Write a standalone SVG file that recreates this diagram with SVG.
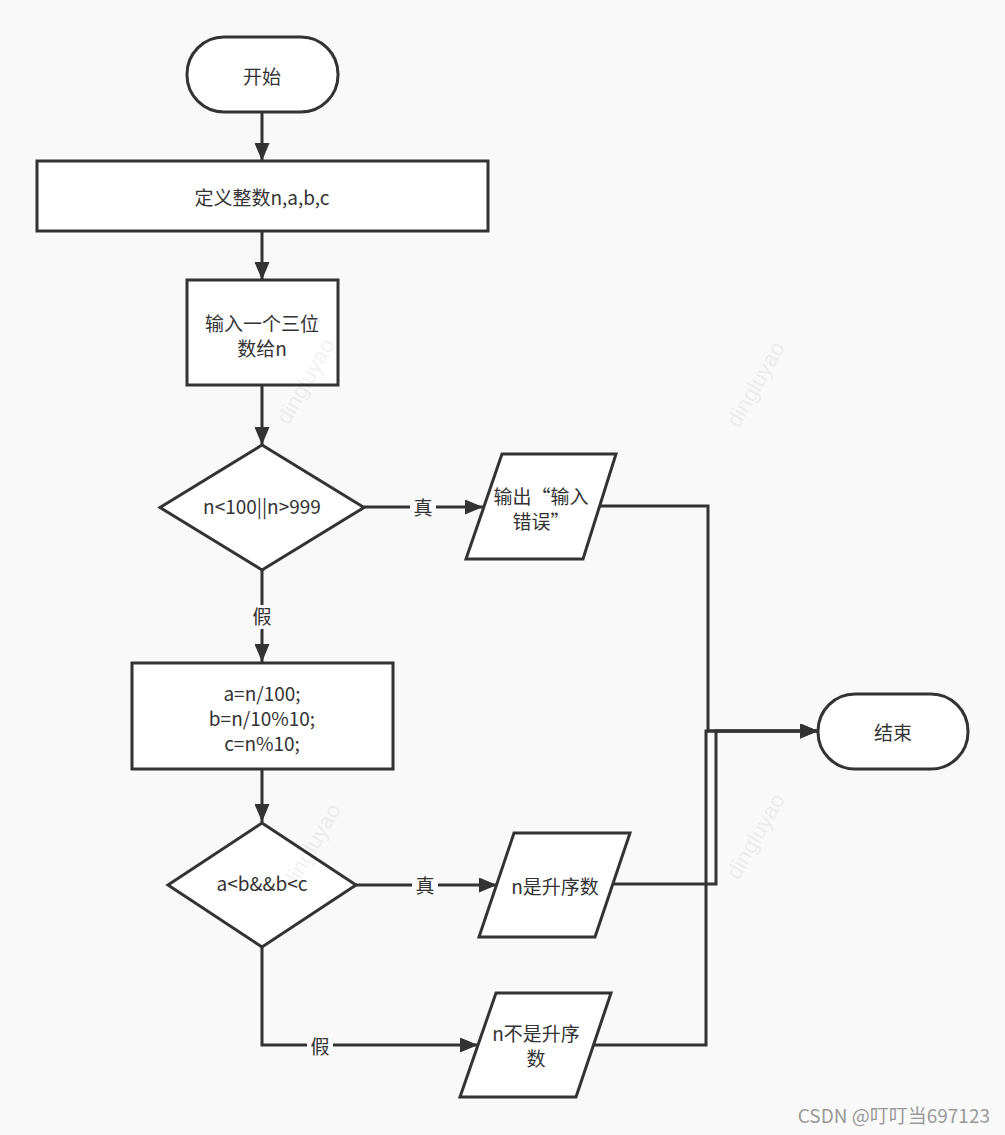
<svg xmlns="http://www.w3.org/2000/svg" width="1005" height="1135" viewBox="0 0 1005 1135">
<style>
.s{fill:#fff;stroke:#333;stroke-width:3}
.c{fill:none;stroke:#333;stroke-width:3}
.t{font-family:"Noto Sans CJK SC","Open Sans",sans-serif;font-size:19px;fill:#333;text-anchor:middle}
.w{font-family:"Liberation Sans",sans-serif;font-size:22px;fill:#000;opacity:0.05;text-anchor:middle}
.lb{fill:#f9f9f9}
</style>
<defs>
<marker id="a" viewBox="0 0 12 10" refX="12" refY="5" markerWidth="6" markerHeight="5" orient="auto" markerUnits="strokeWidth">
<path d="M0,0 L12,5 L0,10 z" fill="#333"/>
</marker>
</defs>
<rect width="1005" height="1135" fill="#f9f9f9"/>
<g id="connectors">
<line class="c" x1="262" y1="112" x2="262" y2="161" marker-end="url(#a)"/>
<line class="c" x1="262" y1="231" x2="262" y2="280" marker-end="url(#a)"/>
<line class="c" x1="262" y1="385" x2="262" y2="445" marker-end="url(#a)"/>
<line class="c" x1="364" y1="507" x2="483" y2="507" marker-end="url(#a)"/>
<line class="c" x1="262" y1="570" x2="262" y2="662" marker-end="url(#a)"/>
<line class="c" x1="262" y1="769" x2="262" y2="822" marker-end="url(#a)"/>
<line class="c" x1="356" y1="885" x2="497" y2="885" marker-end="url(#a)"/>
<polyline class="c" points="262,947 262,1045 478,1045" marker-end="url(#a)"/>
<polyline class="c" points="600,506 708,506 708,731 818,731" marker-end="url(#a)"/>
<polyline class="c" points="614,884 716,884 716,731 818,731" marker-end="url(#a)"/>
<polyline class="c" points="594,1045 706,1045 706,731 818,731" marker-end="url(#a)"/>
<rect class="lb" x="410" y="496" width="26" height="24"/>
<text class="t" x="423" y="515">真</text>
<rect class="lb" x="249" y="605" width="26" height="24"/>
<text class="t" x="262" y="624">假</text>
<rect class="lb" x="412" y="874" width="26" height="24"/>
<text class="t" x="425" y="893">真</text>
<rect class="lb" x="307" y="1035" width="26" height="24"/>
<text class="t" x="320" y="1054">假</text>
</g>
<g id="start">
<rect class="s" x="187" y="37" width="151" height="75" rx="37" ry="37"/>
<text class="t" x="262" y="84">开始</text>
</g>
<g id="define">
<rect class="s" x="37" y="161" width="451" height="70"/>
<text class="t" x="262" y="205">定义整数n,a,b,c</text>
</g>
<g id="input">
<rect class="s" x="187" y="280" width="151" height="105"/>
<text class="t" x="262" y="331">输入一个三位</text>
<text class="t" x="262" y="356">数给n</text>
</g>
<g id="cond1">
<polygon class="s" points="262,445 364,507.5 262,570 160,507.5"/>
<text class="t" x="262" y="514">n&lt;100||n&gt;999</text>
</g>
<g id="err">
<polygon class="s" points="502,454 616,454 583,559 466,559"/>
<text class="t" x="541" y="504">输出“输入</text>
<text class="t" x="541" y="529">错误”</text>
</g>
<g id="calc">
<rect class="s" x="132" y="663" width="261" height="106"/>
<text class="t" x="262" y="701">a=n/100;</text>
<text class="t" x="262" y="726">b=n/10%10;</text>
<text class="t" x="262" y="751">c=n%10;</text>
</g>
<g id="cond2">
<polygon class="s" points="262,823 356,885 262,947 168,885"/>
<text class="t" x="262" y="891">a&lt;b&amp;&amp;b&lt;c</text>
</g>
<g id="asc">
<polygon class="s" points="514,833 630,833 595,937 479,937"/>
<text class="t" x="555" y="894">n是升序数</text>
</g>
<g id="notasc">
<polygon class="s" points="496,993 611,993 576,1097 460,1097"/>
<text class="t" x="536" y="1041">n不是升序</text>
<text class="t" x="536" y="1066">数</text>
</g>
<g id="end">
<rect class="s" x="818" y="694" width="150" height="75" rx="37" ry="37"/>
<text class="t" x="893" y="740">结束</text>
</g>
<g id="watermarks">
<text class="w" transform="translate(312,385) rotate(-60)">dingluyao</text>
<text class="w" transform="translate(762,388) rotate(-60)">dingluyao</text>
<text class="w" transform="translate(318,850) rotate(-60)">dingluyao</text>
<text class="w" transform="translate(762,840) rotate(-60)">dingluyao</text>
</g>
<text x="990" y="1123" font-family="Noto Sans CJK SC,Open Sans,sans-serif" font-size="19" fill="#999" text-anchor="end">CSDN @叮叮当697123</text>
</svg>
